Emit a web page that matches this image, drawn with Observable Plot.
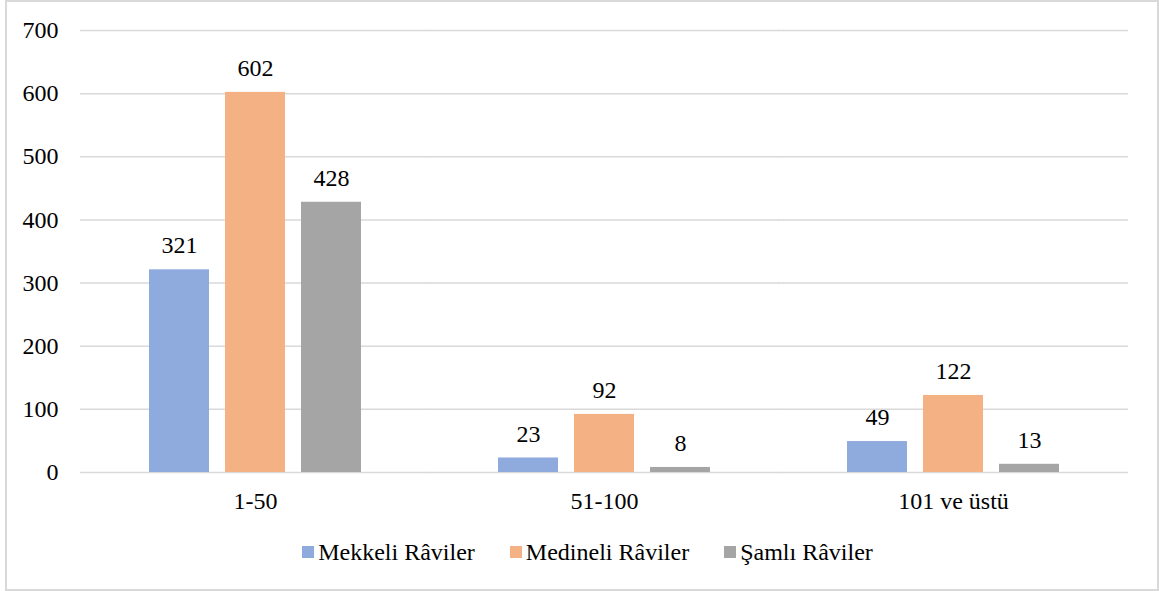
<!DOCTYPE html>
<html>
<head>
<meta charset="utf-8">
<script src="https://cdn.jsdelivr.net/npm/d3@7"></script>
<script src="https://cdn.jsdelivr.net/npm/@observablehq/plot@0.6"></script>
<style>
  html, body { margin: 0; padding: 0; background: #fff; }
  #wrap { position: relative; width: 1159px; height: 591px; font-family: "Liberation Serif", "DejaVu Serif", serif; }
  #border { position: absolute; left: 5px; top: 0px; width: 1150px; height: 587px; border: 2px solid #D9D9D9; box-sizing: content-box; pointer-events: none; }
  #chart { position: absolute; left: 0; top: 0; }
  #legend { position: absolute; left: 8px; top: 538px; width: 1159px; display: flex; justify-content: center; gap: 35px; font-family: "Liberation Serif", "DejaVu Serif", serif; font-size: 24px; line-height: 28px; color: #000; }
  .item { display: flex; align-items: center; }
  .sw { width: 12px; height: 12px; margin-right: 4px; display: inline-block; }
</style>
</head>
<body>
<div id="wrap">
  <div id="chart"></div>
  <div id="legend"></div>
  <div id="border"></div>
</div>
<script>
const categories = ["1-50", "51-100", "101 ve üstü"];
const series = ["Mekkeli Râviler", "Medineli Râviler", "Şamlı Râviler"];
const mekkeli = [321, 23, 49];
const medineli = [602, 92, 122];
const samli = [428, 8, 13];
const colors = ["#8FAADC", "#F4B183", "#A5A5A5"];
const yTicks = [0, 100, 200, 300, 400, 500, 600, 700];

const seriesValues = [mekkeli, medineli, samli];
const data = [];
categories.forEach((c, i) => {
  series.forEach((s, j) => data.push({category: c, series: s, value: seriesValues[j][i]}));
});

const font = "Liberation Serif, DejaVu Serif, serif";

const chart = Plot.plot({
  width: 1159,
  height: 530,
  marginTop: 30,
  marginBottom: 58,
  marginLeft: 80,
  marginRight: 30,
  style: {fontFamily: font, fontSize: "24px", color: "#000", background: "transparent"},
  fx: {domain: categories, paddingInner: 0.34, paddingOuter: 0.17, label: null},
  x: {domain: series, paddingInner: 0.208, paddingOuter: 0.104, axis: null},
  y: {domain: [0, 700], ticks: yTicks, label: null},
  color: {domain: series, range: colors},
  marks: [
    Plot.gridY(yTicks, {stroke: "#D9D9D9", strokeOpacity: 1, strokeWidth: 1.5, insetLeft: -60, insetRight: -60}),
    Plot.axisY(yTicks, {tickSize: 0, tickPadding: 22, fontSize: 24, fontFamily: font, label: null, dx: -60}),
    Plot.axisFx({anchor: "bottom", tickSize: 0, tickPadding: 19, fontSize: 24, fontFamily: font, label: null}),
    Plot.barY(data, {fx: "category", x: "series", y: "value", fill: "series"}),
    Plot.text(data, {fx: "category", x: "series", y: "value", text: d => String(d.value), dy: -24, fontSize: 24, fontFamily: font, fill: "#000"})
  ]
});
document.getElementById("chart").appendChild(chart);

const legend = document.getElementById("legend");
series.forEach((s, j) => {
  const it = document.createElement("div");
  it.className = "item";
  const sw = document.createElement("span");
  sw.className = "sw";
  sw.style.background = colors[j];
  const t = document.createElement("span");
  t.textContent = s;
  it.appendChild(sw);
  it.appendChild(t);
  legend.appendChild(it);
});
</script>
</body>
</html>
